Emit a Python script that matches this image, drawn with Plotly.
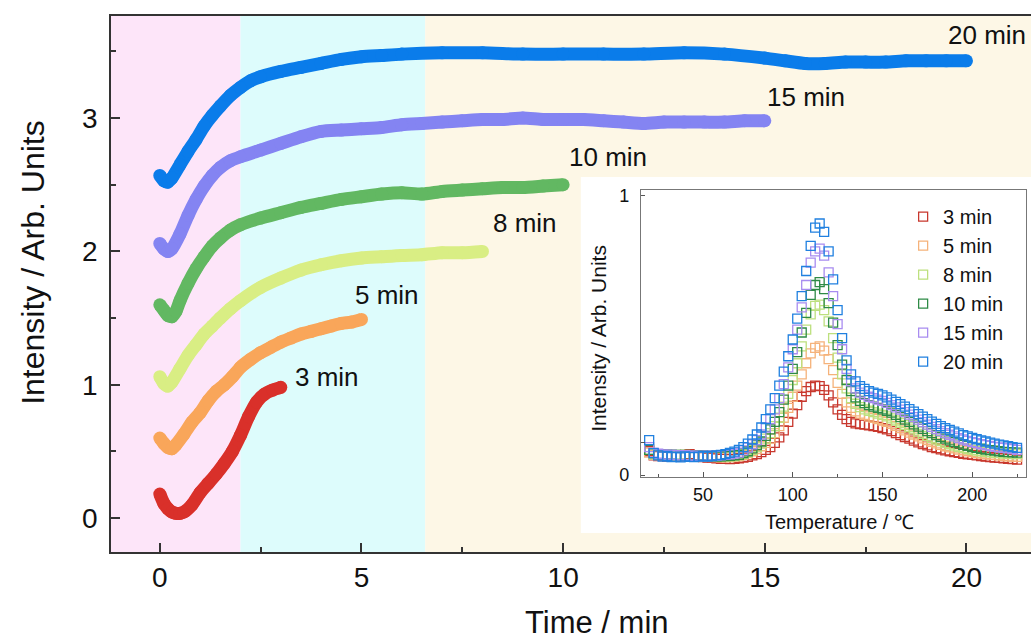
import plotly.graph_objects as go

# ---------------- main panel data (time / min vs intensity) ----------------
t3 = [0, 0.1, 0.2, 0.3, 0.4, 0.5, 0.6, 0.8, 1.0, 1.2, 1.4, 1.6, 1.8, 2.0, 2.2, 2.4, 2.6, 2.8, 3.0]
y3 = [0.18, 0.11, 0.07, 0.045, 0.035, 0.035, 0.045, 0.10, 0.19, 0.26, 0.33, 0.41, 0.50, 0.62, 0.76, 0.87, 0.93, 0.96, 0.98]

t5 = [0, 0.1, 0.2, 0.3, 0.4, 0.6, 0.8, 1.0, 1.2, 1.4, 1.6, 1.8, 2.0, 2.25, 2.5, 2.75, 3.0, 3.25, 3.5, 3.75, 4.0, 4.25, 4.5, 4.75, 5.0]
y5 = [0.60, 0.56, 0.53, 0.52, 0.55, 0.63, 0.72, 0.79, 0.88, 0.95, 1.00, 1.06, 1.13, 1.19, 1.24, 1.28, 1.32, 1.35, 1.38, 1.40, 1.42, 1.44, 1.46, 1.47, 1.49]

t8 = [0, 0.1, 0.2, 0.3, 0.5, 0.7, 0.9, 1.1, 1.3, 1.5, 1.75, 2.0, 2.5, 3.0, 3.5, 4.0, 4.5, 5.0, 5.5, 6.0, 6.5, 7.0, 7.5, 8.0]
y8 = [1.06, 1.01, 0.99, 1.02, 1.12, 1.22, 1.30, 1.38, 1.44, 1.50, 1.57, 1.63, 1.73, 1.80, 1.86, 1.90, 1.93, 1.95, 1.96, 1.97, 1.975, 1.99, 1.99, 2.00]

t10 = [0, 0.1, 0.2, 0.3, 0.4, 0.5, 0.7, 0.9, 1.1, 1.3, 1.5, 1.75, 2.0, 2.5, 3.0, 3.5, 4.0, 4.5, 5.0, 5.5, 6.0, 6.5, 7.0, 7.5, 8.0, 8.5, 9.0, 9.5, 10.0]
y10 = [1.60, 1.56, 1.52, 1.51, 1.55, 1.63, 1.76, 1.87, 1.96, 2.04, 2.10, 2.16, 2.20, 2.25, 2.29, 2.33, 2.36, 2.39, 2.41, 2.43, 2.44, 2.43, 2.45, 2.46, 2.47, 2.48, 2.48, 2.49, 2.50]

t15 = [0, 0.1, 0.2, 0.3, 0.5, 0.7, 0.9, 1.1, 1.3, 1.5, 1.75, 2.0, 2.5, 3.0, 3.5, 4.0, 4.5, 5.0, 5.5, 6.0, 6.5, 7.0, 7.5, 8.0, 8.5, 9.0, 9.5, 10.0, 10.5, 11.0, 11.5, 12.0, 12.5, 13.0, 13.5, 14.0, 14.5, 15.0]
y15 = [2.06, 2.02, 2.00, 2.02, 2.13, 2.27, 2.39, 2.49, 2.57, 2.63, 2.68, 2.71, 2.76, 2.81, 2.86, 2.90, 2.91, 2.92, 2.93, 2.95, 2.96, 2.97, 2.98, 2.99, 2.99, 3.00, 2.99, 2.99, 2.99, 2.98, 2.97, 2.96, 2.97, 2.97, 2.97, 2.97, 2.98, 2.98]

t20 = [0, 0.1, 0.2, 0.3, 0.5, 0.7, 0.9, 1.1, 1.3, 1.5, 1.75, 2.0, 2.25, 2.5, 3.0, 3.5, 4.0, 4.5, 5.0, 5.5, 6.0, 7.0, 8.0, 9.0, 10.0, 11.0, 12.0, 13.0, 14.0, 15.0, 15.5, 16.0, 16.5, 17.0, 17.5, 18.0, 18.5, 19.0, 19.5, 20.0]
y20 = [2.57, 2.53, 2.52, 2.55, 2.65, 2.75, 2.84, 2.94, 3.02, 3.09, 3.17, 3.23, 3.28, 3.31, 3.35, 3.38, 3.41, 3.44, 3.46, 3.47, 3.48, 3.49, 3.49, 3.48, 3.48, 3.48, 3.48, 3.49, 3.48, 3.45, 3.43, 3.41, 3.41, 3.42, 3.42, 3.42, 3.43, 3.43, 3.43, 3.43]

main_names = ["3 min", "5 min", "8 min", "10 min", "15 min", "20 min"]
main_colors = ["#d9302a", "#f9a65a", "#d9ee84", "#62b862", "#8484f2", "#0a7cea"]

# label anchor positions (data coordinates of the curve labels)
label_t = [3.3, 4.8, 8.2, 10.1, 15.0, 19.5]
label_y = [1.06, 1.67, 2.21, 2.71, 3.16, 3.62]

# shaded time regions
region_edges = [-1.21, 2.0, 6.58, 21.6]
region_colors = ["#fde5f9", "#ddfcfc", "#fdf7e6"]

# ---------------- inset data (temperature / C vs intensity) ----------------
temp = [20, 22.5, 25, 27.5, 30, 32.5, 35, 37.5, 40, 42.5, 45, 47.5, 50, 52.5, 55, 57.5, 60, 62.5, 65, 67.5,
        70, 72.5, 75, 77.5, 80, 82.5, 85, 87.5, 90, 92.5, 95, 97.5, 100, 102.5, 105, 107.5, 110, 112.5, 115, 117.5,
        120, 122.5, 125, 127.5, 130, 132.5, 135, 137.5, 140, 142.5, 145, 147.5, 150, 152.5, 155, 157.5, 160, 162.5,
        165, 167.5, 170, 172.5, 175, 177.5, 180, 182.5, 185, 187.5, 190, 192.5, 195, 197.5, 200, 202.5, 205, 207.5,
        210, 212.5, 215, 217.5, 220, 222.5, 225]

i3 = [0.085, 0.07, 0.068, 0.07, 0.066, 0.068, 0.065, 0.067, 0.07, 0.075, 0.068, 0.065, 0.064, 0.062, 0.063, 0.06, 0.058, 0.058, 0.057, 0.058,
      0.06, 0.062, 0.065, 0.07, 0.075, 0.082, 0.09, 0.10, 0.115, 0.135, 0.16, 0.19, 0.22, 0.25, 0.28, 0.30, 0.315, 0.32, 0.318, 0.305,
      0.285, 0.26, 0.235, 0.215, 0.20, 0.19, 0.185, 0.182, 0.18, 0.178, 0.175, 0.172, 0.168, 0.163, 0.157, 0.15, 0.143, 0.136,
      0.13, 0.123, 0.117, 0.111, 0.106, 0.10, 0.096, 0.092, 0.088, 0.085, 0.082, 0.079, 0.076, 0.074, 0.072, 0.07, 0.068, 0.066,
      0.064, 0.062, 0.061, 0.06, 0.058, 0.057, 0.055]

i5 = [0.08, 0.072, 0.07, 0.072, 0.069, 0.071, 0.068, 0.07, 0.072, 0.07, 0.069, 0.067, 0.066, 0.065, 0.066, 0.064, 0.063, 0.063, 0.064, 0.066,
      0.068, 0.072, 0.078, 0.085, 0.093, 0.103, 0.115, 0.13, 0.15, 0.175, 0.205, 0.24, 0.28, 0.32, 0.36, 0.40, 0.435, 0.455, 0.46, 0.445,
      0.415, 0.375, 0.33, 0.29, 0.26, 0.24, 0.228, 0.22, 0.215, 0.21, 0.205, 0.20, 0.195, 0.19, 0.183, 0.176, 0.168, 0.16,
      0.152, 0.145, 0.138, 0.131, 0.125, 0.119, 0.113, 0.108, 0.103, 0.099, 0.095, 0.091, 0.088, 0.085, 0.082, 0.079, 0.077, 0.075,
      0.073, 0.071, 0.07, 0.068, 0.067, 0.066, 0.065]

i8 = [0.09, 0.075, 0.073, 0.074, 0.071, 0.073, 0.07, 0.072, 0.071, 0.07, 0.071, 0.069, 0.068, 0.068, 0.067, 0.066, 0.066, 0.066, 0.067, 0.068,
      0.07, 0.075, 0.082, 0.09, 0.10, 0.113, 0.13, 0.15, 0.175, 0.205, 0.245, 0.29, 0.34, 0.40, 0.46, 0.52, 0.575, 0.605, 0.61, 0.59,
      0.55, 0.49, 0.42, 0.36, 0.31, 0.275, 0.255, 0.243, 0.235, 0.23, 0.225, 0.22, 0.215, 0.21, 0.203, 0.195, 0.187, 0.179,
      0.171, 0.163, 0.155, 0.147, 0.14, 0.133, 0.127, 0.121, 0.115, 0.11, 0.105, 0.101, 0.097, 0.093, 0.09, 0.087, 0.085, 0.083,
      0.081, 0.079, 0.078, 0.077, 0.076, 0.075, 0.075]

i10 = [0.09, 0.078, 0.075, 0.074, 0.073, 0.072, 0.072, 0.071, 0.072, 0.07, 0.07, 0.069, 0.069, 0.068, 0.068, 0.067, 0.067, 0.068, 0.069, 0.07,
       0.072, 0.078, 0.085, 0.095, 0.107, 0.12, 0.14, 0.163, 0.19, 0.225, 0.27, 0.32, 0.38, 0.44, 0.51, 0.58, 0.645, 0.68, 0.69, 0.665,
       0.615, 0.545, 0.465, 0.395, 0.34, 0.30, 0.278, 0.265, 0.257, 0.25, 0.245, 0.24, 0.235, 0.23, 0.223, 0.215, 0.207, 0.198,
       0.19, 0.181, 0.173, 0.165, 0.157, 0.15, 0.143, 0.136, 0.13, 0.124, 0.118, 0.113, 0.108, 0.104, 0.10, 0.097, 0.094, 0.091,
       0.089, 0.087, 0.085, 0.083, 0.082, 0.081, 0.08]

i15 = [0.10, 0.08, 0.076, 0.074, 0.072, 0.073, 0.071, 0.07, 0.071, 0.069, 0.069, 0.068, 0.068, 0.069, 0.068, 0.069, 0.07, 0.072, 0.074, 0.077,
       0.08, 0.088, 0.098, 0.11, 0.125, 0.145, 0.17, 0.20, 0.235, 0.275, 0.325, 0.385, 0.45, 0.52, 0.60, 0.68, 0.76, 0.80, 0.81, 0.785,
       0.725, 0.64, 0.54, 0.45, 0.38, 0.335, 0.31, 0.295, 0.287, 0.28, 0.275, 0.27, 0.265, 0.258, 0.25, 0.242, 0.234, 0.225,
       0.216, 0.207, 0.198, 0.189, 0.18, 0.172, 0.164, 0.157, 0.15, 0.144, 0.138, 0.132, 0.127, 0.122, 0.118, 0.114, 0.11, 0.107,
       0.104, 0.101, 0.099, 0.097, 0.095, 0.093, 0.09]

i20 = [0.125, 0.078, 0.07, 0.066, 0.068, 0.064, 0.066, 0.063, 0.067, 0.065, 0.064, 0.066, 0.068, 0.066, 0.068, 0.07, 0.072, 0.075, 0.079, 0.084,
       0.09, 0.10, 0.112, 0.127, 0.145, 0.17, 0.20, 0.235, 0.275, 0.32, 0.37, 0.425, 0.485, 0.56, 0.64, 0.73, 0.82, 0.885, 0.90, 0.87,
       0.80, 0.70, 0.59, 0.49, 0.41, 0.36, 0.335, 0.318, 0.308, 0.30, 0.295, 0.29, 0.285, 0.278, 0.27, 0.262, 0.254, 0.245,
       0.236, 0.227, 0.218, 0.209, 0.20, 0.191, 0.183, 0.175, 0.168, 0.161, 0.155, 0.149, 0.143, 0.138, 0.133, 0.128, 0.124, 0.12,
       0.116, 0.112, 0.109, 0.106, 0.103, 0.10, 0.097]

inset_colors = ["#c8372d", "#f5b27a", "#bde07e", "#2e8b46", "#a88cf0", "#2080e0"]

for arr in (i3, i5, i8, i10, i15, i20):
    assert len(arr) == len(temp)

FONT = "Liberation Sans, Arial, Helvetica, sans-serif"

fig = go.Figure()

main_data = [(t3, y3), (t5, y5), (t8, y8), (t10, y10), (t15, y15), (t20, y20)]
for (t, y), c, n in zip(main_data, main_colors, main_names):
    fig.add_trace(go.Scatter(x=t, y=y, mode="lines+markers", name=n,
                             line=dict(color=c, width=13, shape="spline", smoothing=0.6),
                             marker=dict(color=c, size=13),
                             showlegend=False, hoverinfo="skip", xaxis="x", yaxis="y"))

inset_data = [i3, i5, i8, i10, i15, i20]
for y, c, n in zip(inset_data, inset_colors, main_names):
    fig.add_trace(go.Scatter(x=temp, y=y, mode="markers", name=n,
                             marker=dict(symbol="square-open", size=9, color=c, line=dict(color=c, width=1.3)),
                             showlegend=True, xaxis="x2", yaxis="y2"))

shapes = []
for i, col in enumerate(region_colors):
    shapes.append(dict(type="rect", xref="x", yref="y domain", x0=region_edges[i], x1=region_edges[i + 1],
                       y0=0, y1=1, fillcolor=col, line=dict(width=0), layer="below"))
# white inset panel
shapes.append(dict(type="rect", xref="x2 domain", yref="y2 domain", x0=-0.156, x1=1.02, y0=-0.195, y1=1.045,
                   fillcolor="white", line=dict(width=0), layer="below"))

annotations = []
for n, tx, ty in zip(main_names, label_t, label_y):
    annotations.append(dict(x=tx, y=ty, xref="x", yref="y", text=n, showarrow=False,
                            xanchor="left", yanchor="middle", font=dict(size=26, color="#111", family=FONT)))
annotations.append(dict(x=0.528, y=-0.132, xref="paper", yref="paper", text="Time / min", showarrow=False,
                        xanchor="center", yanchor="middle", font=dict(size=31, color="#111", family=FONT)))
annotations.append(dict(x=-0.085, y=0.541, xref="paper", yref="paper", text="Intensity / Arb. Units", showarrow=False,
                        textangle=-90, xanchor="center", yanchor="middle", font=dict(size=32, color="#111", family=FONT)))
annotations.append(dict(x=0.792, y=0.056, xref="paper", yref="paper", text="Temperature / ℃", showarrow=False,
                        xanchor="center", yanchor="middle", font=dict(size=20, color="#111", family=FONT)))
annotations.append(dict(x=0.529, y=0.399, xref="paper", yref="paper", text="Intensity / Arb. Units", showarrow=False,
                        textangle=-90, xanchor="center", yanchor="middle", font=dict(size=21, color="#111", family=FONT)))

fig.update_layout(
    width=1031, height=642,
    margin=dict(l=111, r=0, t=16, b=90),
    paper_bgcolor="white", plot_bgcolor="rgba(0,0,0,0)",
    font=dict(family=FONT, color="#111"),
    shapes=shapes, annotations=annotations,
    showlegend=True,
    legend=dict(x=0.861, y=0.662, xref="paper", yref="paper", xanchor="left", yanchor="top",
                bgcolor="rgba(0,0,0,0)", font=dict(size=20, color="#111", family=FONT),
                itemclick=False, tracegroupgap=0),
    xaxis=dict(domain=[0, 1], range=[-1.21, 21.6], showline=True, linecolor="#333", linewidth=1.5,
               mirror=True, ticks="inside", ticklen=9, tickwidth=1.5, tickcolor="#333",
               tickvals=[0, 5, 10, 15, 20], showgrid=False, zeroline=False,
               minor=dict(ticks="inside", dtick=2.5, tick0=0, ticklen=5, tickwidth=1.5, tickcolor="#333", showgrid=False),
               tickfont=dict(size=28, color="#111"), ticklabelstandoff=0),
    yaxis=dict(domain=[0, 1], range=[-0.255, 3.766], showline=True, linecolor="#333", linewidth=1.5,
               ticks="inside", ticklen=9, tickwidth=1.5, tickcolor="#333",
               tickvals=[0, 1, 2, 3], showgrid=False, zeroline=False,
               minor=dict(ticks="inside", dtick=0.5, tick0=0, ticklen=5, tickwidth=1.5, tickcolor="#333", showgrid=False),
               tickfont=dict(size=28, color="#111"), ticklabelstandoff=6),
    xaxis2=dict(domain=[0.576, 0.9946], anchor="y2", range=[15.4, 230], showline=True, linecolor="#777", linewidth=1.2,
                mirror=True, ticks="inside", ticklen=5, tickwidth=1, tickcolor="#555",
                tickvals=[50, 100, 150, 200], showgrid=False, zeroline=False,
                minor=dict(ticks="inside", dtick=25, tick0=0, ticklen=3, tickwidth=1, tickcolor="#555", showgrid=False),
                tickfont=dict(size=18, color="#111"), ticklabelstandoff=1),
    yaxis2=dict(domain=[0.14, 0.6754], anchor="x2", range=[-0.007, 1.02], showline=True, linecolor="#777", linewidth=1.2,
                mirror=True, ticks="inside", ticklen=4, tickwidth=1, tickcolor="#555",
                tickvals=[0, 0.115, 1], ticktext=["0", "", "1"], showgrid=False, zeroline=False,
                tickfont=dict(size=18, color="#111"), ticklabelstandoff=7),
)

fig.write_html("out.html")
